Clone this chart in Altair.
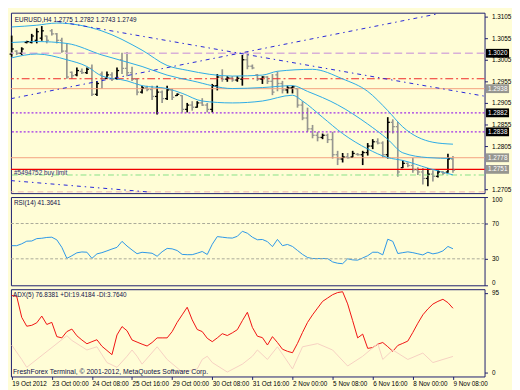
import json
import altair as alt
import pandas as pd

# ---------------- data ----------------
header_text = "EURUSD,H4  1.2775 1.2782 1.2743 1.2749"
rsi_text = "RSI(14) 41.3641"
adx_text = "ADX(5) 76.8381 +DI:19.4184 -DI:3.7640"
footer_text = "FreshForex Terminal, \u00a9 2001-2012, MetaQuotes Software Corp."
order_text = "#5494752 buy limit"

opens = [1.3018, 1.3025, 1.3020, 1.3045, 1.3045, 1.3050, 1.3055, 1.3060, 1.3072, 1.3065,
         1.3050, 1.3025, 1.2976, 1.2970, 1.2978, 1.2975, 1.2985, 1.2925, 1.2972, 1.2962,
         1.2970, 1.2962, 1.3005, 1.2985, 1.2975, 1.2960, 1.2930, 1.2940, 1.2936, 1.2920,
         1.2930, 1.2915, 1.2935, 1.2922, 1.2922, 1.2890, 1.2900, 1.2895, 1.2905, 1.2900,
         1.2890, 1.2945, 1.2965, 1.2960, 1.2963, 1.2958, 1.2960, 1.3005, 1.2990, 1.2970,
         1.2960, 1.2965, 1.2955, 1.2970, 1.2950, 1.2935, 1.2940, 1.2938, 1.2900, 1.2870,
         1.2845, 1.2830, 1.2825, 1.2830, 1.2820, 1.2785, 1.2775, 1.2780, 1.2780, 1.2786,
         1.2785, 1.2790, 1.2805, 1.2815, 1.2812, 1.2785, 1.2860, 1.2850, 1.2755, 1.2765,
         1.2760, 1.2750, 1.2745, 1.2730, 1.2740, 1.2735, 1.2745, 1.2745, 1.2775]
highs = [1.3061, 1.3027, 1.3034, 1.3049, 1.3065, 1.3078, 1.3083, 1.3061, 1.3076, 1.3067,
         1.3056, 1.3043, 1.2978, 1.2987, 1.2985, 1.2987, 1.2994, 1.2956, 1.2978, 1.2978,
         1.2976, 1.2987, 1.3021, 1.3023, 1.2989, 1.2961, 1.2945, 1.2945, 1.2945, 1.2945,
         1.2934, 1.2945, 1.2938, 1.2927, 1.2923, 1.2905, 1.2909, 1.2909, 1.2916, 1.2905,
         1.2949, 1.2972, 1.2983, 1.2967, 1.2967, 1.2967, 1.3016, 1.3023, 1.2994, 1.2972,
         1.2967, 1.2967, 1.2972, 1.2978, 1.2956, 1.2945, 1.2945, 1.2938, 1.2909, 1.2894,
         1.2854, 1.2838, 1.2834, 1.2834, 1.2838, 1.2794, 1.2789, 1.2789, 1.2794, 1.2789,
         1.2794, 1.2812, 1.2821, 1.2823, 1.2816, 1.2872, 1.2867, 1.2861, 1.2772, 1.2767,
         1.2778, 1.2756, 1.2754, 1.2754, 1.2749, 1.2749, 1.2747, 1.2787, 1.2782]
lows = [1.3012, 1.3016, 1.3016, 1.3043, 1.3043, 1.3043, 1.3049, 1.3043, 1.3061, 1.3043,
        1.3021, 1.2961, 1.2961, 1.2967, 1.2972, 1.2972, 1.2921, 1.2921, 1.2938, 1.2961,
        1.2956, 1.2958, 1.2972, 1.2967, 1.2956, 1.2923, 1.2927, 1.2932, 1.2912, 1.2878,
        1.2905, 1.2912, 1.2912, 1.2921, 1.2883, 1.2883, 1.2887, 1.2894, 1.2898, 1.2883,
        1.2883, 1.2934, 1.2954, 1.2954, 1.2954, 1.2954, 1.2945, 1.2983, 1.2983, 1.2956,
        1.2949, 1.2949, 1.2923, 1.2932, 1.2927, 1.2927, 1.2927, 1.2894, 1.2865, 1.2838,
        1.2823, 1.2816, 1.2821, 1.2812, 1.2776, 1.2761, 1.2767, 1.2776, 1.2778, 1.2783,
        1.2761, 1.2783, 1.2798, 1.2809, 1.2778, 1.2776, 1.2834, 1.2734, 1.2754, 1.2756,
        1.2743, 1.2738, 1.2716, 1.2712, 1.2723, 1.2732, 1.2738, 1.2743, 1.2743]
closes = [1.3030, 1.3020, 1.3030, 1.3047, 1.3060, 1.3070, 1.3072, 1.3050, 1.3065, 1.3050,
          1.3025, 1.2965, 1.2968, 1.2980, 1.2975, 1.2983, 1.2925, 1.2950, 1.2960, 1.2970,
          1.2960, 1.2980, 1.2985, 1.2975, 1.2960, 1.2930, 1.2940, 1.2936, 1.2920, 1.2930,
          1.2915, 1.2935, 1.2918, 1.2925, 1.2890, 1.2900, 1.2895, 1.2905, 1.2900, 1.2890,
          1.2945, 1.2965, 1.2960, 1.2963, 1.2958, 1.2962, 1.3005, 1.2990, 1.2986, 1.2960,
          1.2965, 1.2955, 1.2930, 1.2950, 1.2935, 1.2940, 1.2942, 1.2900, 1.2870, 1.2845,
          1.2830, 1.2825, 1.2830, 1.2820, 1.2785, 1.2775, 1.2780, 1.2778, 1.2788, 1.2785,
          1.2790, 1.2805, 1.2815, 1.2812, 1.2785, 1.2860, 1.2850, 1.2745, 1.2765, 1.2760,
          1.2750, 1.2745, 1.2730, 1.2740, 1.2735, 1.2745, 1.2742, 1.2775, 1.2749]
bar_idx = list(range(len(opens)))

# Bollinger-style bands (bar index, price)
upper_i = [0, 5, 9, 18, 26, 31, 35, 44, 50, 53, 60, 66, 71, 75, 78, 84, 88]
upper_p = [1.3081, 1.3085, 1.3090, 1.30717, 1.30272, 1.29917, 1.29806, 1.29672, 1.29694,
           1.29783, 1.29828, 1.29606, 1.29317, 1.28872, 1.28494, 1.28139, 1.28094]
mid_i = [0, 5, 11, 18, 26, 31, 36, 44, 50, 56, 59, 65, 71, 75, 78, 83, 88]
mid_p = [1.3045, 1.30472, 1.30428, 1.30161, 1.29894, 1.29694, 1.29561, 1.29383, 1.29406,
         1.2945, 1.29317, 1.29006, 1.28561, 1.28206, 1.27894, 1.27783, 1.27761]
lower_i = [0, 5, 11, 15, 18, 23, 26, 31, 34, 38, 44, 50, 56, 58, 62, 66, 71, 75, 78, 83, 88]
lower_p = [1.30094, 1.30183, 1.3005, 1.29894, 1.29672, 1.29561, 1.2945, 1.29383, 1.29272,
           1.29094, 1.2905, 1.29094, 1.29228, 1.29094, 1.28717, 1.28339, 1.27983, 1.27783,
           1.27717, 1.27539, 1.27383]

# trend lines (two anchor points each)
trend_names = ["rising", "falling", "lower"]
trend_i = [[-0.15, 85.1], [9.1, 94.3], [-0.15, 27.7]]
trend_p = [[1.29148, 1.31117], [1.30939, 1.29206], [1.27250, 1.26983]]

# horizontal levels
level_prices = [1.3020, 1.2961, 1.2938, 1.2882, 1.2838, 1.2778, 1.2751, 1.2738, 1.2699]

# price tags on the right
tag_prices = [1.3020, 1.2938, 1.2882, 1.2838, 1.2778, 1.2751]
tag_kinds = ["alert", "order", "alert", "alert", "order", "order"]

# 1.2755 sits behind the 1.2751 tag in the reference, so it is not listed
price_ticks = [1.2705, 1.2805, 1.2855, 1.2905, 1.2955, 1.3005, 1.3055, 1.3105]

rsi_values = [44.9, 44.9, 47, 50, 50.2, 52.9, 53.3, 54.2, 54.5, 51.5,
              43, 30.5, 33.5, 36.8, 37.8, 37.5, 30.5, 35.6, 37, 39,
              41.1, 43, 49.8, 44.5, 40, 35.8, 37.4, 36.9, 36.3, 32.9,
              38, 41.8, 41.3, 39.4, 35, 34.7, 34.7, 36.4, 38.3, 34.9,
              46.5, 55.2, 54.5, 53.8, 53.5, 55.5, 61.2, 59, 54.5, 51.6,
              51.9, 49.5, 43.8, 52, 44.9, 46.3, 44, 39.5, 35, 31.5,
              30.3, 30.3, 30.3, 30.3, 26.5, 25, 24.5, 30, 28.8, 28.5,
              31, 33.5, 37.5, 37.4, 34.5, 52.2, 49.8, 36, 37, 37.9,
              37, 35.7, 34.4, 37.5, 35.6, 36.7, 39, 44, 41.4]
rsi_levels = [30, 70]
rsi_ticks = [0, 30, 70, 100]

adx_values = [92, 91, 66, 55.4, 56.5, 59.5, 67.5, 57.5, 60, 43,
              41.5, 49, 52, 44, 39, 34.5, 37, 39.3, 31.5, 26.5,
              21.5, 45, 55, 50, 39, 36.5, 34, 31.8, 36, 41.5,
              41.5, 41.5, 49, 60, 69, 78, 63, 51.5, 49, 41,
              37, 41.5, 46.5, 44.3, 47.5, 51.3, 62, 72, 54, 43.5,
              41.8, 33, 43, 36, 28, 25.5, 23.8, 35, 48, 60,
              69, 77, 85, 89, 93, 95.5, 96.5, 82, 62, 41.5,
              46, 29, 30, 34, 36, 31, 25.5, 32.5, 35, 37.7,
              48, 59, 69, 76, 81.8, 85, 87.5, 83.5, 76.8]
pdi_i = [0, 2, 3, 11, 12, 15, 17, 19, 21, 23, 24, 25, 26, 29, 31, 34, 37, 38, 39, 40,
         43, 46, 48, 49, 51, 53, 56, 58, 61, 64, 67, 70, 73, 74, 76, 79, 82, 84, 88]
pdi_v = [33, 15.8, 6.4, 44.1, 38.5, 27.1, 30.9, 12.1, 6.4, 19.6, 27.1, 19.6, 10.2, 30.9,
         15.8, 0.8, 4.5, 15.8, 19.6, 12.1, 0.8, 10.2, 19.6, 27.1, 15.8, 30.9, 4.5, 30.9,
         34.7, 27.1, 8, 19.6, 34.7, 15.8, 27.1, 15.8, 23.4, 12.1, 19.4]
adx_ticks = [0, 95]

date_ticks = [0, 8, 16, 24, 32, 40, 48, 56, 64, 72, 80, 88]
date_labels = ["19 Oct 2012", "23 Oct 00:00", "24 Oct 08:00", "25 Oct 16:00",
               "29 Oct 00:00", "30 Oct 08:00", "31 Oct 16:00", "2 Nov 00:00",
               "5 Nov 08:00", "6 Nov 16:00", "8 Nov 00:00", "9 Nov 08:00"]

# ---------------- styling ----------------
W = 483
H1, H2, H3 = 184, 90, 89
BG = "#FFFDD6"
FRAME = "#1c1c6c"
FONT = "Liberation Sans"
FS = 6.5
TXT = "#10104a"
CYAN = "#2AAAE6"
TREND = "#2424D8"

level_styles = [
    dict(color="#D8B0D8", strokeDash=[8, 4], strokeWidth=1.5),
    dict(color="#F02828", strokeDash=[8, 3, 2, 3], strokeWidth=1),
    dict(color="#F4A080", strokeWidth=1),
    dict(color="#A030E8", strokeDash=[2, 2], strokeWidth=1.2),
    dict(color="#A030E8", strokeDash=[2, 2], strokeWidth=1.2),
    dict(color="#F4A080", strokeWidth=1),
    dict(color="#F00000", strokeWidth=1.3),
    dict(color="#86E086", strokeDash=[6, 3, 2, 3], strokeWidth=1),
    dict(color="#F0B4B4", strokeDash=[6, 4], strokeWidth=1),
]

xscale = alt.Scale(domain=[-0.15, 94.3], nice=False, zero=False)
pscale = alt.Scale(domain=[1.2696, 1.3114], nice=False, zero=False)
rscale = alt.Scale(domain=[0, 100], nice=False, zero=False)
ascale = alt.Scale(domain=[-4.5, 99.5], nice=False, zero=False)

price_axis = alt.Axis(orient="right", values=price_ticks, format=".4f", title=None,
                      tickSize=3, labelPadding=4, domain=False, grid=False,
                      labelFlush=False, labelOverlap=False)
rsi_axis = alt.Axis(orient="right", values=rsi_ticks, title=None, tickSize=3, labelPadding=4,
                    domain=False, grid=False, labelFlush=True, labelOverlap=False)
adx_axis = alt.Axis(orient="right", values=adx_ticks, title=None, tickSize=3, labelPadding=4,
                    domain=False, grid=False, labelFlush=False, labelOverlap=False)
label_expr = json.dumps(date_labels) + "[round(datum.value / 8)]"
date_axis = alt.Axis(values=date_ticks, labelExpr=label_expr, labelAlign="left", labelPadding=1,
                     tickSize=3, title=None, domain=False, grid=False, labelFlush=False,
                     labelOverlap=False, labelBound=False)


def PX(f):
    return alt.X(f, scale=xscale, axis=None)


def PY(f):
    return alt.Y(f, scale=pscale, axis=price_axis)


def RY(f):
    return alt.Y(f, scale=rscale, axis=rsi_axis)


def AX(f):
    return alt.X(f, scale=xscale, axis=date_axis)


def AY(f):
    return alt.Y(f, scale=ascale, axis=adx_axis)


# ---------------- main panel ----------------
bars_df = pd.DataFrame(dict(i=bar_idx, o=opens, h=highs, l=lows, c=closes))
bar_base = alt.Chart(bars_df).transform_calculate(
    dir="datum.c >= datum.o ? 'up' : 'down'",
    xo="datum.i - 0.42",
    xc="datum.i + 0.42",
)
bar_color = alt.Color("dir:N", scale=alt.Scale(domain=["up", "down"], range=["#000000", "#969690"]), legend=None)

hl = bar_base.mark_rule(strokeWidth=1.7).encode(x=PX("i:Q"), y=PY("l:Q"), y2="h:Q", color=bar_color)
op = bar_base.mark_rule(strokeWidth=1.3).encode(x=PX("xo:Q"), x2="i:Q", y=PY("o:Q"), color=bar_color)
cl = bar_base.mark_rule(strokeWidth=1.3).encode(x=PX("i:Q"), x2="xc:Q", y=PY("c:Q"), color=bar_color)

band_df = pd.concat([
    pd.DataFrame(dict(band="upper", i=upper_i, p=upper_p)),
    pd.DataFrame(dict(band="middle", i=mid_i, p=mid_p)),
    pd.DataFrame(dict(band="lower", i=lower_i, p=lower_p)),
])
bands = alt.Chart(band_df).mark_line(color=CYAN, strokeWidth=1, interpolate="monotone").encode(
    x=PX("i:Q"), y=PY("p:Q"), detail="band:N",
)

trend_rows = []
for name, ii, pp in zip(trend_names, trend_i, trend_p):
    for a, b in zip(ii, pp):
        trend_rows.append(dict(line=name, i=a, p=b))
trends = alt.Chart(pd.DataFrame(trend_rows)).mark_line(
    color=TREND, strokeWidth=1, strokeDash=[4, 4, 1.5, 4], clip=True
).encode(x=PX("i:Q"), y=PY("p:Q"), detail="line:N")

level_layers = []
for price, st in zip(level_prices, level_styles):
    level_layers.append(
        alt.Chart(pd.DataFrame({"p": [price]})).mark_rule(**st).encode(y=PY("p:Q"))
    )

tag_df = pd.DataFrame(dict(p=tag_prices, kind=tag_kinds))
tags = alt.Chart(tag_df).transform_calculate(
    lo="datum.p - 0.00102", hi="datum.p + 0.00102"
).mark_rect().encode(
    x=alt.value(W + 1.5), x2=alt.value(W + 25),
    y=PY("lo:Q"), y2="hi:Q",
    color=alt.Color("kind:N", scale=alt.Scale(domain=["alert", "order"], range=["#9E3CD2", "#F00000"]), legend=None),
)
tag_text = alt.Chart(tag_df).mark_text(
    align="left", baseline="middle", color="white", font=FONT, fontSize=FS
).encode(x=alt.value(W + 3.5), y=PY("p:Q"), text=alt.Text("p:Q", format=".4f"))

order_lbl = alt.Chart(pd.DataFrame({"p": [1.2751], "t": [order_text]})).mark_text(
    align="left", baseline="top", dy=1, color="#303070", font=FONT, fontSize=FS
).encode(x=alt.value(3), y=PY("p:Q"), text="t:N")

header = alt.Chart(pd.DataFrame({"t": [header_text]})).mark_text(
    align="left", baseline="middle", color=TXT, font=FONT, fontSize=FS
).encode(x=alt.value(4), y=alt.value(7), text="t:N")

main = alt.layer(
    hl, *level_layers, bands, trends, op, cl, tags, tag_text, order_lbl, header
).properties(width=W, height=H1)

# ---------------- RSI panel ----------------
rsi_df = pd.DataFrame(dict(i=bar_idx, v=rsi_values))
rsi_line = alt.Chart(rsi_df).mark_line(color="#2A96E8", strokeWidth=1).encode(x=PX("i:Q"), y=RY("v:Q"))
rsi_lv = alt.Chart(pd.DataFrame({"v": rsi_levels})).mark_rule(
    color="#A8A898", strokeDash=[3, 2], strokeWidth=1
).encode(y=RY("v:Q"))
rsi_title = alt.Chart(pd.DataFrame({"t": [rsi_text]})).mark_text(
    align="left", baseline="middle", color=TXT, font=FONT, fontSize=FS
).encode(x=alt.value(3), y=alt.value(6), text="t:N")
rsi = alt.layer(rsi_line, rsi_lv, rsi_title).properties(width=W, height=H2)

# ---------------- ADX panel ----------------
adx_df = pd.DataFrame(dict(i=bar_idx, v=adx_values))
pdi_df = pd.DataFrame(dict(i=pdi_i, v=pdi_v))
adx_line = alt.Chart(adx_df).mark_line(color="#F01010", strokeWidth=1).encode(x=AX("i:Q"), y=AY("v:Q"))
pdi_line = alt.Chart(pdi_df).mark_line(color="#F6D0C2", strokeWidth=1).encode(x=AX("i:Q"), y=AY("v:Q"))
adx_title = alt.Chart(pd.DataFrame({"t": [adx_text]})).mark_text(
    align="left", baseline="middle", color=TXT, font=FONT, fontSize=FS
).encode(x=alt.value(2), y=alt.value(6), text="t:N")
footer = alt.Chart(pd.DataFrame({"t": [footer_text]})).mark_text(
    align="left", baseline="middle", color=TXT, font=FONT, fontSize=FS + 0.5
).encode(x=alt.value(2), y=alt.value(H3 - 5), text="t:N")
adx = alt.layer(adx_line, pdi_line, adx_title, footer).properties(width=W, height=H3)

chart = alt.vconcat(main, rsi, adx, spacing=2).properties(
    padding={"left": 0, "top": 0, "right": 0, "bottom": 0},
    background=BG,
).configure_view(
    stroke=FRAME, strokeWidth=1, fill=BG
).configure_axis(
    labelFont=FONT, labelFontSize=FS, labelColor="#000000", tickColor=FRAME
)

chart.save("out.html", embed_options={"renderer": "svg", "actions": False})
